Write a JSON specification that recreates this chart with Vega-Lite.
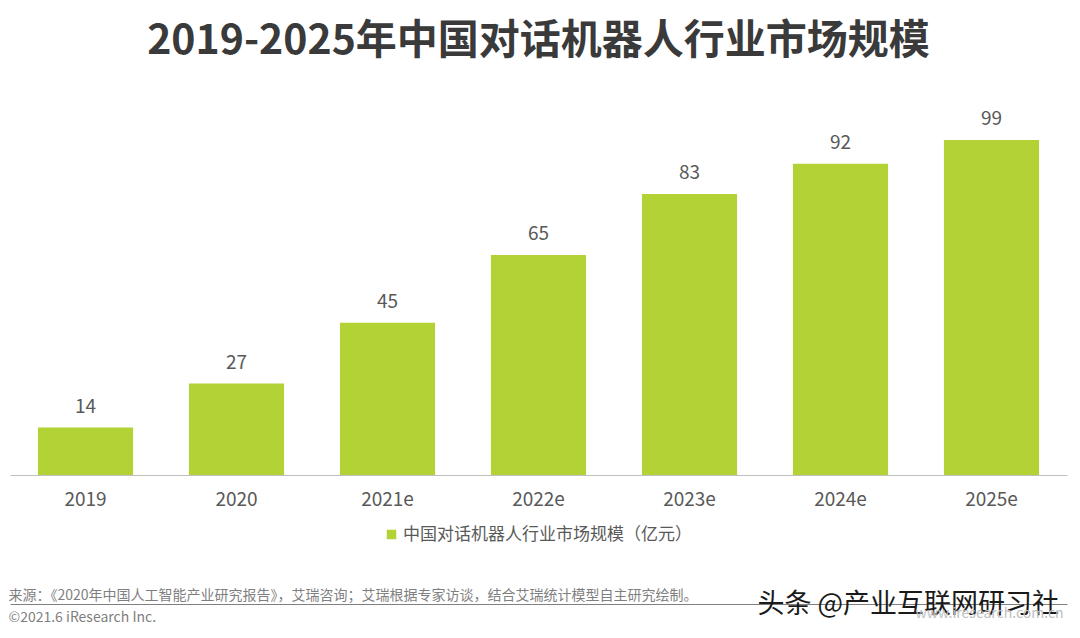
{
  "$schema": "https://vega.github.io/schema/vega-lite/v6.json",
  "autosize": {"type": "none"},
  "padding": {"left": 10, "top": 100, "right": 13, "bottom": 163},
  "width": 1057,
  "height": 375,
  "background": "#ffffff",
  "config": {
    "view": {"stroke": null},
    "font": "Noto Sans CJK SC"
  },
  "title": {
    "text": "2019-2025年中国对话机器人行业市场规模",
    "anchor": "middle",
    "frame": "group",
    "fontSize": 41,
    "fontWeight": "bold",
    "color": "#3a3a3a",
    "font": "Noto Sans CJK SC",
    "offset": 37
  },
  "data": {
    "values": [
      {"year": "2019", "value": 14, "series": "中国对话机器人行业市场规模（亿元）"},
      {"year": "2020", "value": 27, "series": "中国对话机器人行业市场规模（亿元）"},
      {"year": "2021e", "value": 45, "series": "中国对话机器人行业市场规模（亿元）"},
      {"year": "2022e", "value": 65, "series": "中国对话机器人行业市场规模（亿元）"},
      {"year": "2023e", "value": 83, "series": "中国对话机器人行业市场规模（亿元）"},
      {"year": "2024e", "value": 92, "series": "中国对话机器人行业市场规模（亿元）"},
      {"year": "2025e", "value": 99, "series": "中国对话机器人行业市场规模（亿元）"}
    ]
  },
  "encoding": {
    "x": {
      "field": "year",
      "type": "nominal",
      "sort": null,
      "scale": {"paddingInner": 0.37, "paddingOuter": 0.185}
    },
    "y": {
      "field": "value",
      "type": "quantitative",
      "scale": {"domain": [0, 110.8], "nice": false, "zero": true}
    }
  },
  "layer": [
    {
      "mark": {"type": "bar", "color": "#b2d235"},
      "encoding": {
        "x": {
          "field": "year",
          "type": "nominal",
          "sort": null,
          "axis": {
            "orient": "bottom",
            "labelAngle": 0,
            "labelFontSize": 19,
            "labelColor": "#595959",
            "labelPadding": 15,
            "ticks": false,
            "domainColor": "#bfbfbf",
            "domainWidth": 1,
            "grid": false,
            "title": "来源：《2020年中国人工智能产业研究报告》，艾瑞咨询；艾瑞根据专家访谈，结合艾瑞统计模型自主研究绘制。",
            "titleFontSize": 14,
            "titleFontWeight": "normal",
            "titleColor": "#7f7f7f",
            "titleX": -2,
            "titleY": 120,
            "titleAlign": "left",
            "titleBaseline": "middle"
          }
        },
        "y": {
          "field": "value",
          "type": "quantitative",
          "axis": {
            "orient": "left",
            "domain": false,
            "labels": false,
            "ticks": false,
            "grid": false,
            "title": "©2021.6 iResearch Inc.",
            "titleAngle": 0,
            "titleFontSize": 14,
            "titleFontWeight": "normal",
            "titleColor": "#7f7f7f",
            "titleX": -2,
            "titleY": 517,
            "titleAlign": "left",
            "titleBaseline": "middle"
          }
        },
        "color": {
          "field": "series",
          "type": "nominal",
          "scale": {"range": ["#b2d235"]},
          "legend": {
            "title": null,
            "orient": "none",
            "legendX": 373,
            "legendY": 426,
            "symbolType": "square",
            "symbolSize": 90,
            "symbolStrokeWidth": 0,
            "labelFontSize": 17,
            "labelColor": "#595959",
            "labelOffset": 3,
            "labelLimit": 500
          }
        }
      }
    },
    {
      "mark": {"type": "text", "baseline": "alphabetic", "dy": -15, "fontSize": 19, "color": "#595959"},
      "encoding": {
        "text": {"field": "value", "type": "quantitative"},
        "x": {
          "field": "year",
          "type": "nominal",
          "sort": null,
          "axis": {
            "orient": "bottom",
            "offset": 129,
            "labels": false,
            "ticks": false,
            "grid": false,
            "domain": true,
            "domainColor": "#808080",
            "domainWidth": 1,
            "title": "头条 @产业互联网研习社",
            "titleFontSize": 27,
            "titleFontWeight": "normal",
            "titleColor": "#1a1a1a",
            "titleX": 747,
            "titleY": 0,
            "titleAlign": "left",
            "titleBaseline": "middle"
          }
        },
        "y": {
          "field": "value",
          "type": "quantitative",
          "axis": {
            "orient": "right",
            "domain": false,
            "labels": false,
            "ticks": false,
            "grid": false,
            "title": "www.iresearch.com.cn",
            "titleAngle": 0,
            "titleFontSize": 14,
            "titleFontWeight": "normal",
            "titleColor": "#c0c0c0",
            "titleX": -152,
            "titleY": 513,
            "titleAlign": "left",
            "titleBaseline": "middle"
          }
        }
      }
    }
  ],
  "resolve": {"axis": {"x": "independent", "y": "independent"}}
}
